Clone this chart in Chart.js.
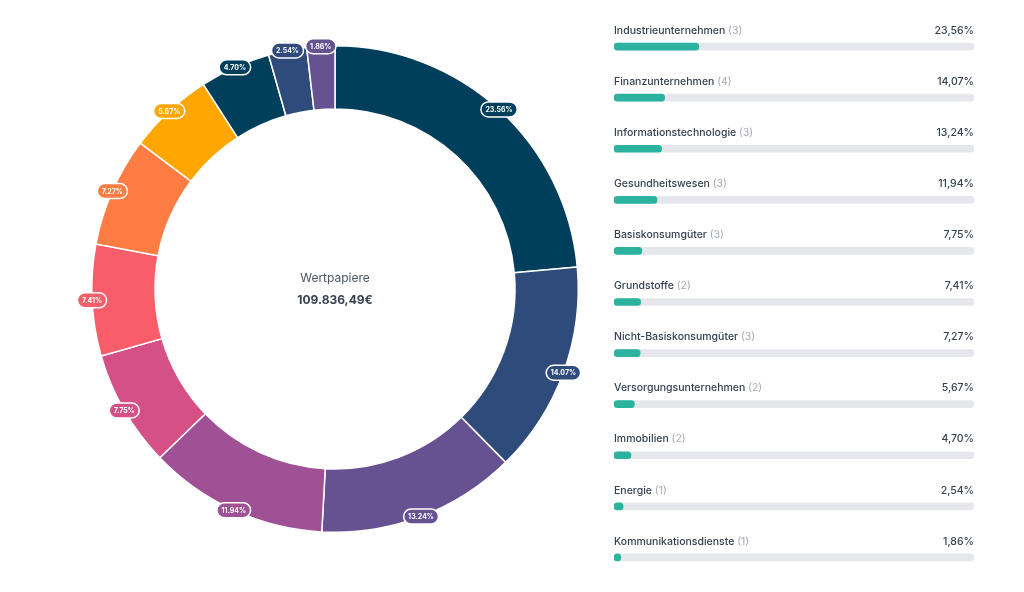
<!DOCTYPE html>
<html lang="de">
<head>
<meta charset="utf-8">
<title>Wertpapiere nach Sektor</title>
<script src="https://cdn.jsdelivr.net/npm/chart.js@4.4.1/dist/chart.umd.min.js"></script>
<style>
  html, body { margin: 0; padding: 0; background: #ffffff; }
  body { width: 1024px; height: 592px; position: relative; overflow: hidden; font-family: Inter, "Noto Sans", sans-serif; }
  #donut { position: absolute; left: 65px; top: 19px; }
  #bars { position: absolute; left: 614px; top: 21px; }
</style>
</head>
<body>
<canvas id="donut" width="540" height="540"></canvas>
<canvas id="bars" width="360" height="562"></canvas>
<script>
// Daten: Sektoren, Anzahl Positionen, Anteil in %
const sektoren = [
  "Industrieunternehmen", "Finanzunternehmen", "Informationstechnologie",
  "Gesundheitswesen", "Basiskonsumgüter", "Grundstoffe",
  "Nicht-Basiskonsumgüter", "Versorgungsunternehmen", "Immobilien",
  "Energie", "Kommunikationsdienste"
];
const anzahl = [3, 4, 3, 3, 3, 2, 3, 2, 2, 1, 1];
const anteile = [23.56, 14.07, 13.24, 11.94, 7.75, 7.41, 7.27, 5.67, 4.70, 2.54, 1.86];
const farben = [
  "#003f5c", "#2f4b7c", "#665191", "#a05195", "#d45087", "#f95d6a",
  "#ff7c43", "#ffa600", "#003f5c", "#2f4b7c", "#665191"
];
const titel = "Wertpapiere";
const gesamt = "109.836,49€";

const schrift = 'Inter, "Noto Sans", sans-serif';

// Plugin: Prozent-Pillen am Aussenrand + Text in der Mitte
const donutLabels = {
  id: "donutLabels",
  afterDraw(chart) {
    const ctx = chart.ctx;
    const meta = chart.getDatasetMeta(0);
    ctx.save();
    meta.data.forEach((arc, i) => {
      const p = arc.getProps(["x", "y", "startAngle", "endAngle", "outerRadius"], true);
      const mitte = (p.startAngle + p.endAngle) / 2;
      const x = p.x + Math.cos(mitte) * p.outerRadius;
      const y = p.y + Math.sin(mitte) * p.outerRadius;
      const text = anteile[i].toFixed(2) + "%";
      ctx.font = "bold 7px " + schrift;
      const w = ctx.measureText(text).width + 9;
      const h = 15;
      ctx.beginPath();
      ctx.roundRect(x - w / 2, y - h / 2, w, h, h / 2);
      ctx.fillStyle = farben[i];
      ctx.fill();
      ctx.lineWidth = 1.5;
      ctx.strokeStyle = "#ffffff";
      ctx.stroke();
      ctx.fillStyle = "#ffffff";
      ctx.textAlign = "center";
      ctx.textBaseline = "middle";
      ctx.fillText(text, x, y + 0.5);
    });
    const cx = meta.data[0].x, cy = meta.data[0].y;
    ctx.textAlign = "center";
    ctx.textBaseline = "middle";
    ctx.font = "12px " + schrift;
    ctx.fillStyle = "#4b5563";
    ctx.fillText(titel, cx, cy - 11);
    ctx.font = "bold 12px " + schrift;
    ctx.fillStyle = "#374151";
    ctx.fillText(gesamt, cx, cy + 11);
    ctx.restore();
  }
};

new Chart(document.getElementById("donut"), {
  type: "doughnut",
  data: {
    labels: sektoren,
    datasets: [{
      data: anteile,
      backgroundColor: farben,
      borderColor: "#ffffff",
      borderWidth: 1.5
    }]
  },
  options: {
    responsive: false,
    animation: false,
    cutout: "74%",
    layout: { padding: 26 },
    plugins: { legend: { display: false }, tooltip: { enabled: false } }
  },
  plugins: [donutLabels]
});

// Plugin: Beschriftung ueber jedem Balken
const balkenLabels = {
  id: "balkenLabels",
  afterDraw(chart) {
    const ctx = chart.ctx;
    const yScale = chart.scales.y;
    const area = chart.chartArea;
    ctx.save();
    ctx.textBaseline = "middle";
    sektoren.forEach((name, i) => {
      const y = yScale.getPixelForValue(i) - 16;
      ctx.font = "500 10.5px " + schrift;
      ctx.textAlign = "left";
      ctx.fillStyle = "#374151";
      ctx.fillText(name, area.left, y);
      const nw = ctx.measureText(name + " ").width;
      ctx.font = "10.5px " + schrift;
      ctx.fillStyle = "#a3a8b0";
      ctx.fillText("(" + anzahl[i] + ")", area.left + nw, y);
      ctx.font = "500 10.5px " + schrift;
      ctx.textAlign = "right";
      ctx.fillStyle = "#374151";
      ctx.fillText(anteile[i].toFixed(2).replace(".", ",") + "%", area.right, y);
    });
    ctx.restore();
  }
};

new Chart(document.getElementById("bars"), {
  type: "bar",
  data: {
    labels: sektoren,
    datasets: [
      {
        data: anteile,
        backgroundColor: "#2bb3a0",
        barThickness: 7,
        borderRadius: 4,
        borderSkipped: false,
        grouped: false,
        order: 0
      },
      {
        data: sektoren.map(() => 100),
        backgroundColor: "#e5e7eb",
        barThickness: 7,
        borderRadius: 4,
        borderSkipped: false,
        grouped: false,
        order: 1
      }
    ]
  },
  options: {
    indexAxis: "y",
    responsive: false,
    animation: false,
    layout: { padding: 0 },
    scales: {
      x: { display: false, min: 0, max: 100 },
      y: { display: false }
    },
    plugins: { legend: { display: false }, tooltip: { enabled: false } }
  },
  plugins: [balkenLabels]
});
</script>
</body>
</html>
